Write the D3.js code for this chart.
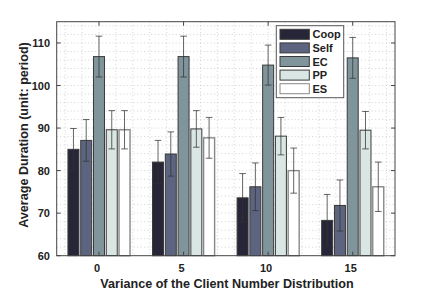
<!DOCTYPE html>
<html>
<head>
<meta charset="utf-8">
<script src="https://cdn.jsdelivr.net/npm/d3@7"></script>
<style>
  body { margin: 0; background: #fff; }
  text { font-family: "Liberation Sans", Arial, sans-serif; font-weight: bold; fill: #222; }
</style>
</head>
<body>
<svg id="chart" width="436" height="291"></svg>
<script>
// chart data
const categories = [0, 5, 10, 15];
const seriesNames = ["Coop", "Self", "EC", "PP", "ES"];
const coop = [85.0, 82.0, 73.6, 68.3];
const self = [87.1, 83.9, 76.2, 71.8];
const ec = [106.8, 106.8, 104.8, 106.5];
const pp = [89.6, 89.8, 88.1, 89.5];
const es = [89.6, 87.7, 80.0, 76.2];
// half-width of error bars
const coopErr = [4.9, 5.1, 5.7, 6.1];
const selfErr = [4.9, 5.2, 5.6, 6.0];
const ecErr = [4.8, 4.8, 4.7, 4.8];
const ppErr = [4.5, 4.3, 4.4, 4.4];
const esErr = [4.5, 4.8, 5.3, 5.8];
const yTicks = [60, 70, 80, 90, 100, 110];
const colors = ["#262638", "#5d6480", "#7f959b", "#d9e6e4", "#ffffff"];

const values = [coop, self, ec, pp, es];
const errs = [coopErr, selfErr, ecErr, ppErr, esErr];

const svg = d3.select("#chart");
const plot = { left: 56.7, right: 395, top: 21.7, bottom: 255.7 };

const x = d3.scaleLinear().domain([-2.5, 17.5]).range([plot.left, plot.right]);
const y = d3.scaleLinear().domain([60, 115]).range([plot.bottom, plot.top]);

const pitch = 0.755, barW = 0.65;

// grid (dotted)
const grid = svg.append("g");
d3.range(-2, 18, 1).forEach(v => {
  grid.append("line")
    .attr("x1", x(v)).attr("x2", x(v))
    .attr("y1", plot.top).attr("y2", plot.bottom)
    .attr("stroke", "#c8c8c8").attr("stroke-width", 0.8)
    .attr("stroke-dasharray", "1,2.5");
});
d3.range(62, 115, 2).forEach(v => {
  grid.append("line")
    .attr("x1", plot.left).attr("x2", plot.right)
    .attr("y1", y(v)).attr("y2", y(v))
    .attr("stroke", "#c8c8c8").attr("stroke-width", 0.8)
    .attr("stroke-dasharray", "1,2.5");
});

// bars
const data = [];
categories.forEach((c, ci) => {
  seriesNames.forEach((s, si) => {
    data.push({ c: c, s: si, v: values[si][ci], e: errs[si][ci] });
  });
});

svg.append("g").selectAll("rect")
  .data(data)
  .enter()
  .append("rect")
  .attr("x", d => x(d.c + (d.s - 2) * pitch - barW / 2))
  .attr("width", d => x(barW) - x(0))
  .attr("y", d => y(d.v))
  .attr("height", d => y(60) - y(d.v))
  .attr("fill", d => colors[d.s])
  .attr("stroke", d => d.s === 4 ? "#888" : "#3a3a3a")
  .attr("stroke-width", d => d.s === 4 ? 1.4 : 1);

// error bars
const eb = svg.append("g").attr("stroke", "#333").attr("stroke-opacity", 0.75).attr("stroke-width", 1);
data.forEach(d => {
  const cx = x(d.c + (d.s - 2) * pitch);
  eb.append("line").attr("x1", cx).attr("x2", cx).attr("y1", y(d.v - d.e)).attr("y2", y(d.v + d.e));
  [d.v - d.e, d.v + d.e].forEach(v => {
    eb.append("line").attr("x1", cx - 3.3).attr("x2", cx + 3.3).attr("y1", y(v)).attr("y2", y(v));
  });
});

// axes box + ticks
svg.append("rect")
  .attr("x", plot.left).attr("y", plot.top)
  .attr("width", plot.right - plot.left).attr("height", plot.bottom - plot.top)
  .attr("fill", "none").attr("stroke", "#444").attr("stroke-width", 1);

const tk = 4;
const axisG = svg.append("g").attr("stroke", "#444").attr("stroke-width", 1);
categories.forEach(c => {
  axisG.append("line").attr("x1", x(c)).attr("x2", x(c)).attr("y1", plot.bottom).attr("y2", plot.bottom - tk);
  axisG.append("line").attr("x1", x(c)).attr("x2", x(c)).attr("y1", plot.top).attr("y2", plot.top + tk);
});
yTicks.forEach(v => {
  axisG.append("line").attr("x1", plot.left).attr("x2", plot.left + tk).attr("y1", y(v)).attr("y2", y(v));
  axisG.append("line").attr("x1", plot.right).attr("x2", plot.right - tk).attr("y1", y(v)).attr("y2", y(v));
});

svg.append("g").selectAll("text")
  .data(categories)
  .enter()
  .append("text")
  .attr("x", d => x(d) - 2)
  .attr("y", 272)
  .attr("text-anchor", "middle")
  .attr("font-size", 11)
  .text(d => d);

svg.append("g").selectAll("text")
  .data(yTicks)
  .enter()
  .append("text")
  .attr("x", 50)
  .attr("y", d => y(d) + 4)
  .attr("text-anchor", "end")
  .attr("font-size", 11)
  .text(d => d);

svg.append("text")
  .attr("x", 227)
  .attr("y", 288)
  .attr("text-anchor", "middle")
  .attr("font-size", 12.6)
  .text("Variance of the Client Number Distribution");

svg.append("text")
  .attr("transform", "translate(28,135) rotate(-90)")
  .attr("text-anchor", "middle")
  .attr("font-size", 12.6)
  .text("Average Duration (unit: period)");

// legend
const lg = svg.append("g");
lg.append("rect")
  .attr("x", 276.3).attr("y", 25.7).attr("width", 67.4).attr("height", 72)
  .attr("fill", "#fff").attr("stroke", "#555").attr("stroke-width", 1);
seriesNames.forEach((s, i) => {
  const cy = 34.3 + i * 13.6;
  lg.append("rect")
    .attr("x", 280).attr("y", cy - 5).attr("width", 29.3).attr("height", 10)
    .attr("fill", colors[i])
    .attr("stroke", i === 4 ? "#888" : "#3a3a3a").attr("stroke-width", 1);
  lg.append("text")
    .attr("x", 312.5).attr("y", cy + 4)
    .attr("font-size", 11)
    .text(s);
});
</script>
</body>
</html>
